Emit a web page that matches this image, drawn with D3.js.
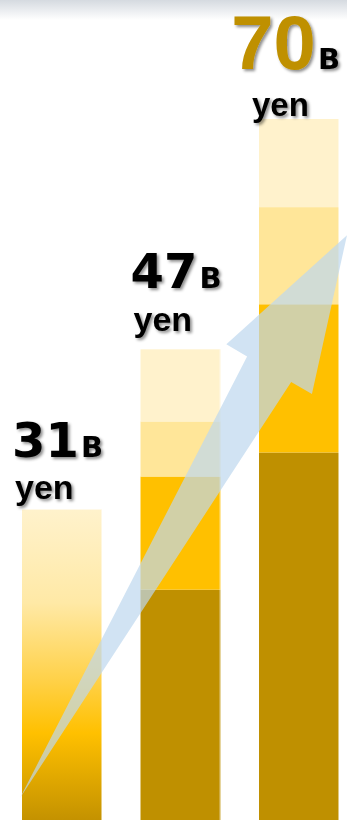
<!DOCTYPE html>
<html>
<head>
<meta charset="utf-8">
<script src="https://cdn.jsdelivr.net/npm/d3@7/dist/d3.min.js"></script>
<style>
  html, body { margin: 0; padding: 0; background: #fff; }
  svg { display: block; }
</style>
</head>
<body>
<svg id="chart" width="347" height="820"></svg>
<script>
// Sales totals (billion yen) for the three periods
const periods = ["p1", "p2", "p3"];
const totals = [31, 47, 70];
const unitLabel = "B";
const unitWord = "yen";

// Breakdown of the stacked bars (bottom to top); the first bar is a single gradient bar
const segDark   = [0, 23.0, 36.7];
const segYellow = [0, 11.3, 14.8];
const segLight  = [0, 5.5, 9.7];
const segCream  = [0, 7.2, 8.8];

// Growth arrow: from near the base of the first bar up to the right edge
const arrowFrom = 2.2;
const arrowTo = 58.4;

const W = 347, H = 820;
const svg = d3.select("#chart");
const defs = svg.append("defs");

// soft grey band at the top
const topGrad = defs.append("linearGradient").attr("id", "topBand")
  .attr("x1", 0).attr("y1", 0).attr("x2", 0).attr("y2", 1);
topGrad.append("stop").attr("offset", 0).attr("stop-color", "#d5dae0");
topGrad.append("stop").attr("offset", 1).attr("stop-color", "#ffffff");
svg.append("rect").attr("x", 0).attr("y", 0).attr("width", W).attr("height", 20)
  .attr("fill", "url(#topBand)");

// gradient fill of the first bar
const barGrad = defs.append("linearGradient").attr("id", "barGrad")
  .attr("x1", 0).attr("y1", 0).attr("x2", 0).attr("y2", 1);
[[0, "#fff2cc"], [0.3, "#ffe9a6"], [0.55, "#ffd148"], [0.72, "#ffc000"], [1, "#c49200"]]
  .forEach(([o, c]) => barGrad.append("stop").attr("offset", o).attr("stop-color", c));

// drop shadow for the labels
const shadow = defs.append("filter").attr("id", "shadow")
  .attr("x", "-20%").attr("y", "-20%").attr("width", "140%").attr("height", "140%");
shadow.append("feDropShadow").attr("dx", 2).attr("dy", 2).attr("stdDeviation", 1.4)
  .attr("flood-color", "#000").attr("flood-opacity", 0.45);

const x = d3.scaleBand().domain(periods).range([22, 339]).paddingInner(0.325).paddingOuter(0);
const y = d3.scaleLinear().domain([0, 70]).range([820, 119]);

// stacked segments
const segKeys = ["dark", "yellow", "light", "cream"];
const segColors = { dark: "#bf9000", yellow: "#ffc000", light: "#ffe699", cream: "#fff2cc" };
const rows = periods.map((p, i) => ({
  period: p, dark: segDark[i], yellow: segYellow[i], light: segLight[i], cream: segCream[i]
}));
const stack = d3.stack().keys(segKeys)(rows);

// first bar: single gradient bar
svg.append("rect")
  .attr("x", x(periods[0])).attr("width", x.bandwidth())
  .attr("y", y(totals[0])).attr("height", y(0) - y(totals[0]))
  .attr("fill", "url(#barGrad)");

const layers = svg.append("g").selectAll("g").data(stack).join("g")
  .attr("fill", d => segColors[d.key]);
layers.selectAll("rect").data(d => d.filter(v => v[1] > v[0])).join("rect")
  .attr("x", d => x(d.data.period)).attr("width", x.bandwidth())
  .attr("y", d => y(d[1])).attr("height", d => y(d[0]) - y(d[1]));

// thin light edge on the right of each bar
svg.append("g").selectAll("line").data(periods).join("line")
  .attr("x1", d => x(d) + x.bandwidth() - 0.5).attr("x2", d => x(d) + x.bandwidth() - 0.5)
  .attr("y1", (d, i) => y(totals[i])).attr("y2", y(0))
  .attr("stroke", "#fff").attr("stroke-opacity", 0.5).attr("stroke-width", 1);

// growth arrow (tapered shaft + head)
const tail = [x(periods[0]) - 2, y(arrowFrom)];
const tip = [W, y(arrowTo)];
const dx = tip[0] - tail[0], dy = tip[1] - tail[1];
const len = Math.hypot(dx, dy);
const ux = dx / len, uy = dy / len;      // along the arrow
const nx = -uy, ny = ux;                 // across the arrow
const headLen = 155, headHalf = 49.5, shaftHalf = 25.5;
const bx = tip[0] - ux * headLen, by = tip[1] - uy * headLen;
const pt = (s) => [bx + nx * s, by + ny * s];
const arrowPts = [tail, pt(shaftHalf), pt(headHalf), tip, pt(-headHalf), pt(-shaftHalf)];
svg.append("path")
  .attr("d", d3.line()(arrowPts) + "Z")
  .attr("fill", "#bdd7ee").attr("fill-opacity", 0.7);

// value labels
const lift = [[53, 11], [61, 18], [50, 3]];
const numFont = ["DejaVu Sans", "DejaVu Sans", "Liberation Sans"];
const numSize = [48, 48, 76];
const numColor = ["#000", "#000", "#bf9000"];
const wordSize = [34, 34, 33];
const labels = svg.append("g").attr("filter", "url(#shadow)");
totals.forEach((v, i) => {
  const top = y(v);
  const t = labels.append("text")
    .attr("x", x(periods[i]) + x.bandwidth() + 1)
    .attr("y", top - lift[i][0])
    .attr("text-anchor", "end")
    .attr("font-weight", "bold");
  t.append("tspan").text(v)
    .attr("font-family", numFont[i]).attr("font-size", numSize[i]).attr("fill", numColor[i]);
  t.append("tspan").text(unitLabel).attr("dx", 2)
    .attr("font-family", "DejaVu Sans").attr("font-size", 29).attr("fill", "#000");
  labels.append("text")
    .attr("x", x(periods[i]) - 7)
    .attr("y", top - lift[i][1])
    .attr("font-family", "Liberation Sans").attr("font-weight", "bold")
    .attr("font-size", wordSize[i]).attr("fill", "#000")
    .text(unitWord);
});
</script>
</body>
</html>
